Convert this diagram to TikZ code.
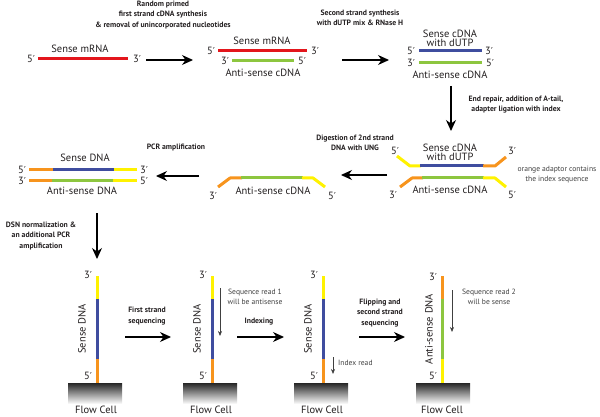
\documentclass[tikz,border=0pt]{standalone}
\usepackage{fontspec}
\setmainfont{PT Sans}
\newfontfamily\pfont[Scale=0.9]{DejaVu Sans}
\newcommand\pri{{\pfont ′}}
\usetikzlibrary{arrows.meta}
\definecolor{cred}{HTML}{E3161C}
\definecolor{cgreen}{HTML}{8DC63F}
\definecolor{cblue}{HTML}{3F4D9F}
\definecolor{cyellow}{HTML}{FFF200}
\definecolor{corange}{HTML}{F7941D}
\definecolor{ctext}{HTML}{231F20}
\tikzset{
  lbl/.style={font=\fontsize{10.5}{10}\selectfont, text=ctext, inner sep=0pt},
  end/.style={font=\fontsize{10.5}{10}\selectfont, text=ctext, inner sep=0pt},
  note/.style={font=\bfseries\fontsize{7.7}{10.5}\selectfont, text=ctext, align=center, inner sep=0pt},
  gnote/.style={font=\fontsize{7.6}{10}\selectfont, text=black!75, align=center, inner sep=0pt},
  strand/.style={line width=3pt, line cap=butt, line join=round},
  bigarrow/.style={-{Stealth[length=11pt,width=10pt]}, line width=1.1pt, black},
  thinarrow/.style={-{Stealth[length=5pt,width=4pt]}, line width=0.6pt, black!75},
  cell/.style={top color=black!85, bottom color=white, draw=none}
}
\begin{document}
\begin{tikzpicture}[x=1pt,y=-1pt]
\useasboundingbox (0,0) rectangle (600,417);
% ---------- Top row ----------
\node[note] (t1) at (163,15) {Random primed\\first strand cDNA synthesis\\\& removal of unincorporated nucleotides};
\node[lbl] (l1) at (80,49) {Sense mRNA};
\draw[strand,cred] (38,59) -- (128,59);
\node[end] (e1a) at (31,59) {5\pri};
\node[end] (e1b) at (137,59) {3\pri};
\coordinate (a1s) at (146,60);
\coordinate (a1e) at (193,60);
\draw[bigarrow] (a1s) -- (a1e);

\node[lbl] (l2) at (262,41) {Sense mRNA};
\draw[strand,cred] (218,51) -- (307,51);
\node[end] (e2a) at (211,51) {5\pri};
\node[end] (e2b) at (315,51) {3\pri};
\draw[strand,cgreen] (232,61) -- (294,61);
\node[end] (e2c) at (225,61) {3\pri};
\node[end] (e2d) at (302,61) {5\pri};
\node[lbl] (l3) at (263,73) {Anti-sense cDNA};

\node[note] (t2) at (360,18) {Second strand synthesis\\with dUTP mix \& RNase H};
\coordinate (a2s) at (342,60);
\coordinate (a2e) at (389,60);
\draw[bigarrow] (a2s) -- (a2e);

\node[lbl, align=center, font=\fontsize{10.5}{9}\selectfont] (l4) at (450,38) {Sense cDNA\\with dUTP};
\draw[strand,cblue] (419,51) -- (482,51);
\node[end] (e3a) at (411,51) {5\pri};
\node[end] (e3b) at (489,51) {3\pri};
\draw[strand,cgreen] (419,63) -- (482,63);
\node[end] (e3c) at (411,63) {3\pri};
\node[end] (e3d) at (490,63) {5\pri};
\node[lbl] (l5) at (450,75) {Anti-sense cDNA};

\coordinate (a3s) at (451,86);
\coordinate (a3e) at (451,131);
\draw[bigarrow] (a3s) -- (a3e);
\node[note] (t3) at (516,104.5) {End repair, addition of A-tail,\\adapter ligation with index};

% ---------- Middle row ----------
\node[lbl, align=center, font=\fontsize{10.5}{9}\selectfont] (l6) at (450,152.5) {Sense cDNA\\with dUTP};
\draw[strand,cyellow] (397,156) -- (410,166) -- (421,166);
\draw[strand,cblue] (420,166) -- (484,166);
\draw[strand,corange] (483,166) -- (495,166) -- (506,157);
\node[end] (e4a) at (395,151) {5\pri};
\node[end] (e4b) at (512,151) {3\pri};
\draw[strand,corange] (400,187) -- (412,178) -- (423,178);
\draw[strand,cgreen] (422,178) -- (484,178);
\draw[strand,cyellow] (483,178) -- (495,178) -- (506,187);
\node[end] (e4c) at (393,195) {3\pri};
\node[end] (e4d) at (512,195) {5\pri};
\node[lbl] (l7) at (450,190) {Anti-sense cDNA};
\node[gnote] (g1) at (557,175) {orange adaptor contains\\the index sequence};

\node[note] (t4) at (355,143) {Digestion of 2nd strand\\DNA with UNG};
\coordinate (a4s) at (387,175);
\coordinate (a4e) at (341,175);
\draw[bigarrow] (a4s) -- (a4e);

\draw[strand,corange] (218,187) -- (230,178) -- (242,178);
\draw[strand,cgreen] (241,178) -- (303,178);
\draw[strand,cyellow] (302,178) -- (313,178) -- (325,187);
\node[end] (e5a) at (213,196) {3\pri};
\node[end] (e5b) at (332,196) {5\pri};
\node[lbl] (l8) at (273,191) {Anti-sense cDNA};

\node[note] (t5) at (176,148) {PCR amplification};
\coordinate (a5s) at (199,176);
\coordinate (a5e) at (156,176);
\draw[bigarrow] (a5s) -- (a5e);

\node[lbl] (l9) at (85,158) {Sense DNA};
\draw[strand,corange] (29,170) -- (54,170);
\draw[strand,cblue] (53,170) -- (115,170);
\draw[strand,cyellow] (114,170) -- (137,170);
\draw[strand,corange] (29,181) -- (53,181);
\draw[strand,cgreen] (52,181) -- (114,181);
\draw[strand,cyellow] (113,181) -- (137,181);
\node[end] (e6a) at (22,170) {5\pri};
\node[end] (e6b) at (144,170) {3\pri};
\node[end] (e6c) at (22,181) {3\pri};
\node[end] (e6d) at (144,181) {5\pri};
\node[lbl] (l10) at (82,191) {Anti-sense DNA};

\coordinate (a6s) at (97,213);
\coordinate (a6e) at (97,259);
\draw[bigarrow] (a6s) -- (a6e);
\node[note] (t6) at (41,236) {DSN normalization \&\\an additional PCR\\amplification};

% ---------- Bottom row ----------
% strand 1
\draw[strand,cyellow] (97,276) -- (97,300);
\draw[strand,cblue] (97,299) -- (97,360);
\draw[strand,corange] (97,359) -- (97,383);
\shade[cell] (68,383) rectangle (122,404);
\node[end] (b1a) at (88,275) {3\pri};
\node[end] (b1b) at (88,376) {5\pri};
\node[lbl, rotate=90] (b1l) at (82,329) {Sense DNA};
\node[lbl] (b1c) at (96,409.5) {Flow Cell};

\node[note] (t7) at (147,316) {First strand\\sequencing};
\coordinate (a7s) at (125,337);
\coordinate (a7e) at (171,337);
\draw[bigarrow] (a7s) -- (a7e);

% strand 2
\draw[strand,cyellow] (212,276) -- (212,300);
\draw[strand,cblue] (212,299) -- (212,360);
\draw[strand,corange] (212,359) -- (212,383);
\shade[cell] (183,383) rectangle (237,404);
\node[end] (b2a) at (203,275) {3\pri};
\node[end] (b2b) at (203,376) {5\pri};
\node[lbl, rotate=90] (b2l) at (197,329) {Sense DNA};
\node[lbl] (b2c) at (211,409.5) {Flow Cell};
\node[gnote] (g2) at (255,297) {Sequence read 1\\will be antisense};
\coordinate (r1s) at (220,288);
\coordinate (r1e) at (220,336);
\draw[thinarrow] (r1s) -- (r1e);

\node[note] (t8) at (259,322) {Indexing};
\coordinate (a8s) at (237,337);
\coordinate (a8e) at (284,337);
\draw[bigarrow] (a8s) -- (a8e);

% strand 3
\draw[strand,cyellow] (323,276) -- (323,300);
\draw[strand,cblue] (323,299) -- (323,360);
\draw[strand,corange] (323,359) -- (323,383);
\shade[cell] (294,383) rectangle (348,404);
\node[end] (b3a) at (314,275) {3\pri};
\node[end] (b3b) at (314,376) {5\pri};
\node[lbl, rotate=90] (b3l) at (308,329) {Sense DNA};
\node[lbl] (b3c) at (322,409.5) {Flow Cell};
\node[gnote, anchor=west] (g3) at (338,363) {Index read};
\coordinate (r2s) at (333,357);
\coordinate (r2e) at (333,374);
\draw[thinarrow] (r2s) -- (r2e);

\node[note] (t9) at (380,313) {Flipping and\\second strand\\sequencing};
\coordinate (a9s) at (359,337);
\coordinate (a9e) at (405,337);
\draw[bigarrow] (a9s) -- (a9e);

% strand 4
\draw[strand,corange] (442,276) -- (442,300);
\draw[strand,cgreen] (442,299) -- (442,360);
\draw[strand,cyellow] (442,359) -- (442,383);
\shade[cell] (416,383) rectangle (470,404);
\node[end] (b4a) at (433,277) {3\pri};
\node[end] (b4b) at (433,376) {5\pri};
\node[lbl, rotate=90] (b4l) at (429,329) {Anti-sense DNA};
\node[lbl] (b4c) at (442,409.5) {Flow Cell};
\node[gnote] (g4) at (489,297) {Sequence read 2\\will be sense};
\coordinate (r3s) at (452,290);
\coordinate (r3e) at (452,332);
\draw[thinarrow] (r3s) -- (r3e);
\end{tikzpicture}
\end{document}
